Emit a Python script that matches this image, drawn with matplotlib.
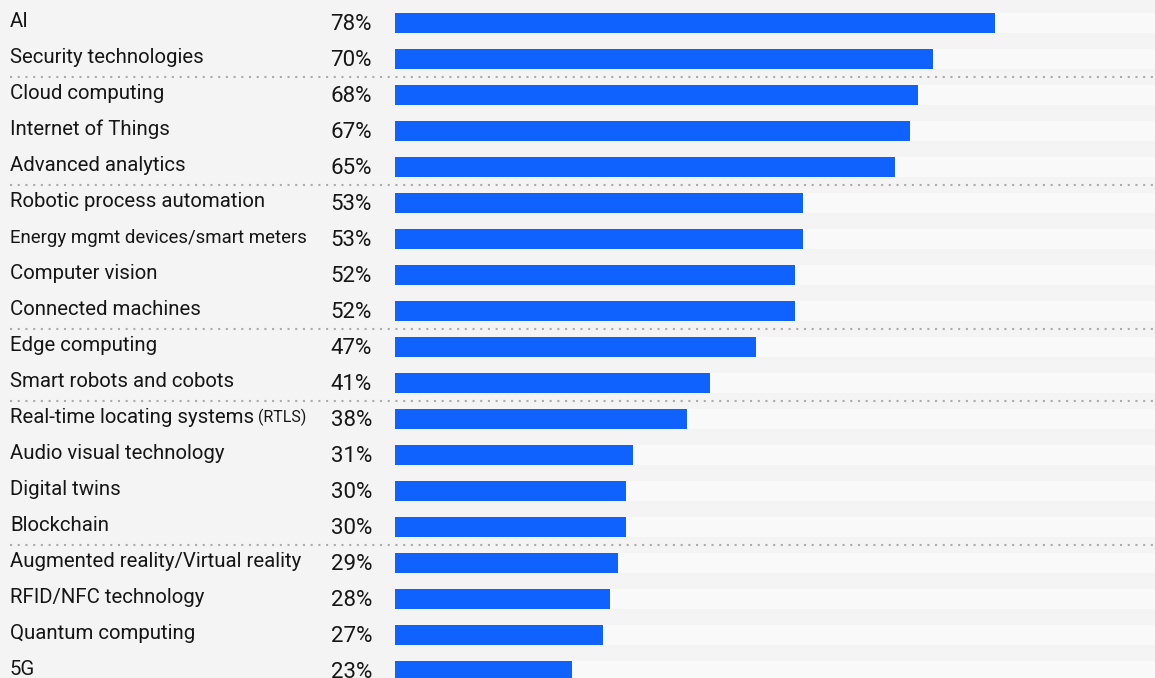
import matplotlib
matplotlib.use("Agg")
import matplotlib.pyplot as plt
import matplotlib.transforms as mtransforms

# data, top to bottom
labels = ["AI", "Security technologies", "Cloud computing", "Internet of Things",
          "Advanced analytics", "Robotic process automation",
          "Energy mgmt devices/smart meters", "Computer vision", "Connected machines",
          "Edge computing", "Smart robots and cobots", "Real-time locating systems",
          "Audio visual technology", "Digital twins", "Blockchain",
          "Augmented reality/Virtual reality", "RFID/NFC technology",
          "Quantum computing", "5G"]
values = [78, 70, 68, 67, 65, 53, 53, 52, 52, 47, 41, 38, 31, 30, 30, 29, 28, 27, 23]
# dotted separators sit after these rows
group_ends = [1, 4, 8, 10, 14]

W, H = 1155, 678
bg = "#f4f4f4"
track = "#f9f9f9"
blue = "#0f62fe"
ink = "#161616"

plt.rcParams["font.family"] = ["Roboto", "DejaVu Sans"]

fig = plt.figure(figsize=(W / 100, H / 100), dpi=100, facecolor=bg)
# bar area: 0% at x=395px, 100% at ~1164px (cut off by the figure edge)
ax = fig.add_axes([395 / W, 0, 769 / W, 1])
ax.set_facecolor(bg)
ax.set_xlim(0, 100)
ax.set_ylim((H - 23) / 36, -23 / 36)
ax.axis("off")

rows = range(len(labels))
ax.barh(rows, [100] * len(labels), height=20 / 36, color=track, zorder=1)
ax.barh(rows, values, height=20 / 36, color=blue, zorder=2)

tr = mtransforms.blended_transform_factory(fig.transFigure, ax.transData)
for i, (lab, v) in enumerate(zip(labels, values)):
    size = 13.4 if lab.startswith("Energy") else 14.7
    t = ax.text(10 / W, i - 0.04, lab, transform=tr, ha="left", va="center",
                fontsize=size, color=ink, clip_on=False)
    if lab.startswith("Real-time"):
        ax.annotate(" (RTLS)", xy=(1, 0.5), xycoords=t, ha="left", va="center",
                    fontsize=11.5, color=ink)
    ax.text(372 / W, i + 0.04, f"{v}%", transform=tr, ha="right", va="center",
            fontsize=16, color=ink, clip_on=False)

for g in group_ends:
    ax.plot([10 / W, 1.0], [g + 0.5, g + 0.5], transform=tr, color="#ababab",
            lw=1.5, dashes=(1, 2.7), clip_on=False, zorder=3)

fig.savefig("out.png", dpi=100, facecolor=bg)
